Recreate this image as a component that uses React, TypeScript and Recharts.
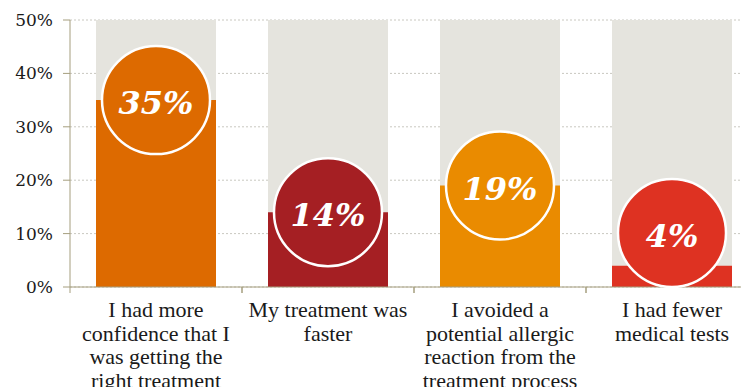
import React from 'react';
import { BarChart, Bar, XAxis, YAxis, CartesianGrid, Cell } from 'recharts';

const categories = [
  'I had more confidence that I was getting the right treatment',
  'My treatment was faster',
  'I avoided a potential allergic reaction from the treatment process',
  'I had fewer medical tests',
];
const labelLines = [
  ['I had more', 'confidence that I', 'was getting the', 'right treatment'],
  ['My treatment was', 'faster'],
  ['I avoided a', 'potential allergic', 'reaction from the', 'treatment process'],
  ['I had fewer', 'medical tests'],
];
const values = [35, 14, 19, 4];
const maxValues = [50, 50, 50, 50];
const barColors = ['#dd6a00', '#a51f23', '#ea8b00', '#de3222'];
const yTicks = [0, 10, 20, 30, 40, 50];

const CHART_W = 758;
const CHART_H = 387;
const Y_AXIS_W = 70;
const BAND = (CHART_W - Y_AXIS_W) / categories.length;
const R = 54;
const AXIS_COLOR = '#a59e7e';

const data = categories.map((name, i) => ({
  name,
  value: values[i],
  max: maxValues[i],
  idx: i,
}));

const XTick = (props: any) => {
  const { x, y, payload } = props;
  const i = payload.index;
  const lines = labelLines[i] || [];
  return (
    <g>
      <line x1={x - BAND / 2} x2={x - BAND / 2} y1={y} y2={y + 6} stroke={AXIS_COLOR} />
      <line x1={x + BAND / 2} x2={x + BAND / 2} y1={y} y2={y + 6} stroke={AXIS_COLOR} />
      <text x={x} y={y} textAnchor="middle" fill="#1a1a1a" fontFamily="'Liberation Serif', serif" fontSize={22}>
        {lines.map((l, k) => (
          <tspan key={k} x={x} y={y + 30 + k * 23.5}>{l}</tspan>
        ))}
      </text>
    </g>
  );
};

const CircleLabel = (props: any) => {
  const { x, y, width, height, value, index } = props;
  const cx = x + width / 2;
  const cy = Math.min(y, y + height - R);
  return (
    <g>
      <circle cx={cx} cy={cy} r={R} fill={barColors[index]} stroke="#fff" strokeWidth={2.5} />
      <text
        x={cx}
        y={cy + 14}
        textAnchor="middle"
        fill="#fff"
        fontFamily="'DejaVu Serif', serif"
        fontStyle="italic"
        fontWeight="bold"
        fontSize={32}
      >
        {value}%
      </text>
    </g>
  );
};

export default function App() {
  return (
    <div style={{ position: 'absolute', left: 0, top: 0, width: 741, height: 387, overflow: 'hidden', background: '#fff' }}>
      <BarChart
        width={CHART_W}
        height={CHART_H}
        data={data}
        margin={{ top: 20, right: 0, left: 0, bottom: 0 }}
        barGap={-120}
        barCategoryGap={52}
      >
        <CartesianGrid vertical={false} stroke="#c9c8c0" strokeDasharray="2 2" />
        <YAxis
          width={Y_AXIS_W}
          domain={[0, 50]}
          ticks={yTicks}
          tickFormatter={(v: number) => `${v}%`}
          axisLine={{ stroke: AXIS_COLOR }}
          tickLine={{ stroke: AXIS_COLOR }}
          tickSize={7}
          tickMargin={10}
          tick={{ fill: '#1a1a1a', fontSize: 17, fontFamily: "'DejaVu Serif', serif" }}
        />
        <XAxis
          dataKey="name"
          height={100}
          axisLine={{ stroke: AXIS_COLOR }}
          tickLine={false}
          tickSize={0}
          tickMargin={0}
          interval={0}
          tick={<XTick />}
        />
        <Bar dataKey="max" fill="#e5e4de" barSize={120} isAnimationActive={false} />
        <Bar dataKey="value" barSize={120} isAnimationActive={false} label={<CircleLabel />}>
          {data.map((d, i) => (
            <Cell key={i} fill={barColors[i]} />
          ))}
        </Bar>
      </BarChart>
    </div>
  );
}
